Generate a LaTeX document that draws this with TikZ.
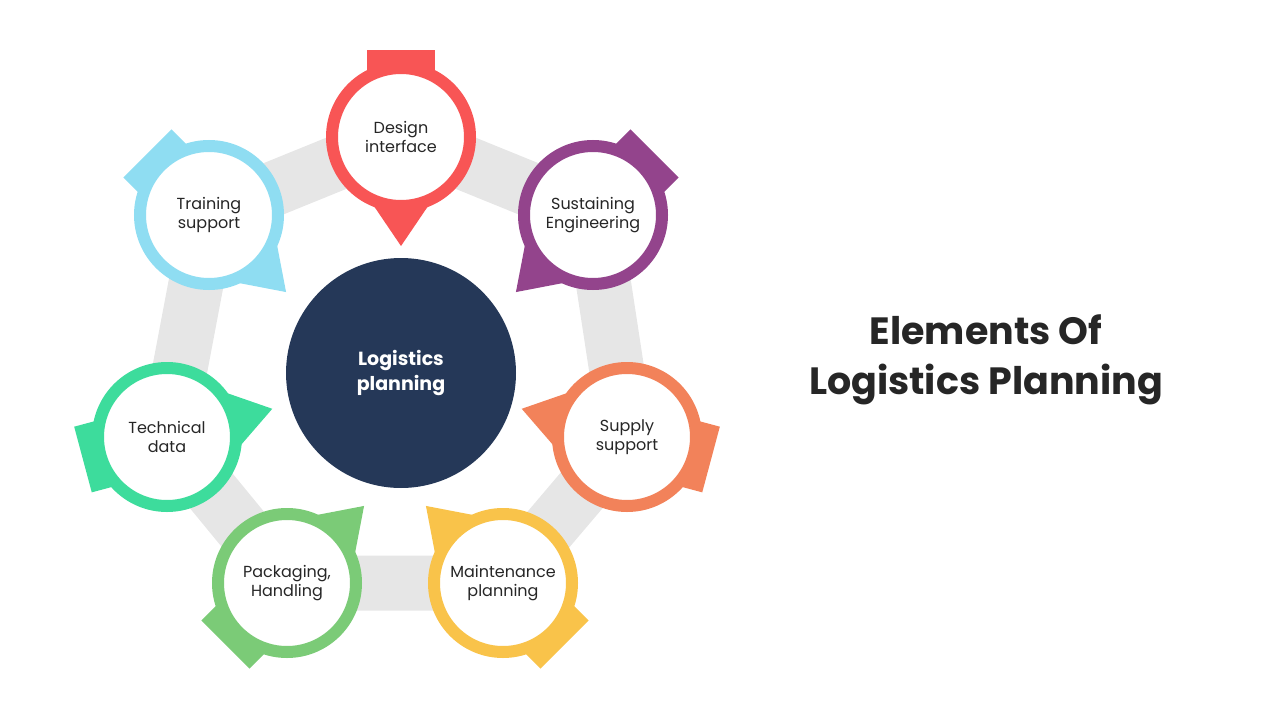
\documentclass[tikz,border=0pt]{standalone}
\usepackage{fontspec}
\setmainfont{Poppins}
\usetikzlibrary{positioning}
\definecolor{linkgray}{HTML}{E6E6E6}
\definecolor{hubblue}{HTML}{253858}
\definecolor{cred}{HTML}{F85555}
\definecolor{cpurple}{HTML}{93448C}
\definecolor{corange}{HTML}{F2825A}
\definecolor{cyellow}{HTML}{F9C34A}
\definecolor{cgreen}{HTML}{7BCB77}
\definecolor{cteal}{HTML}{3DDC9C}
\definecolor{cblue}{HTML}{8FDDF2}
\begin{document}
\begin{tikzpicture}[
        x=1pt, y=-1pt,
        every node/.style={font=\fontsize{16}{19}\selectfont, text=black!85, align=center},
        ring/.style={circle, draw=#1, line width=12pt, fill=white, minimum size=138pt, inner sep=0pt}
    ]
    \useasboundingbox (0,0) rectangle (1280,720);

    % Element positions
    \foreach \name/\cx/\cy in {design/401/137, sustain/593/215, supply/627/437,
        maint/503/583, pack/287/583, tech/167/437, train/209/215} {
        \coordinate (\name) at (\cx,\cy);
    }

    % Grey links between elements
    \draw[linkgray, line width=55pt, line join=round]
        (design) -- (sustain) -- (supply) -- (maint) -- (pack) -- (tech) -- (train) -- cycle;

    % Arrows and rings
    \foreach \name/\col/\ang/\txt in {
        design/cred/90/{Design\\interface},
        sustain/cpurple/135/{Sustaining\\Engineering},
        supply/corange/195/{Supply\\support},
        maint/cyellow/-135/{Maintenance\\planning},
        pack/cgreen/-45/{Packaging,\\Handling},
        tech/cteal/-15/{Technical\\data},
        train/cblue/45/{Training\\support}} {
        \begin{scope}[shift={(\name)}, rotate=-\ang]
            \fill[\col] (-87,-34) rectangle (0,34);
            \fill[\col] (50,-40) -- (109,0) -- (50,40) -- cycle;
        \end{scope}
        \node[ring=\col] (\name-c) at (\name) {\txt};
    }

    % Hub
    \node[circle, fill=hubblue, minimum size=230pt, text=white,
          font=\fontsize{19}{25}\selectfont\bfseries] (hub) at (401,373) {Logistics\\planning};

    % Title
    \node[font=\fontsize{38}{50}\selectfont\bfseries, text=black!85] (title) at (986,360)
        {Elements Of\\Logistics Planning};
\end{tikzpicture}
\end{document}
